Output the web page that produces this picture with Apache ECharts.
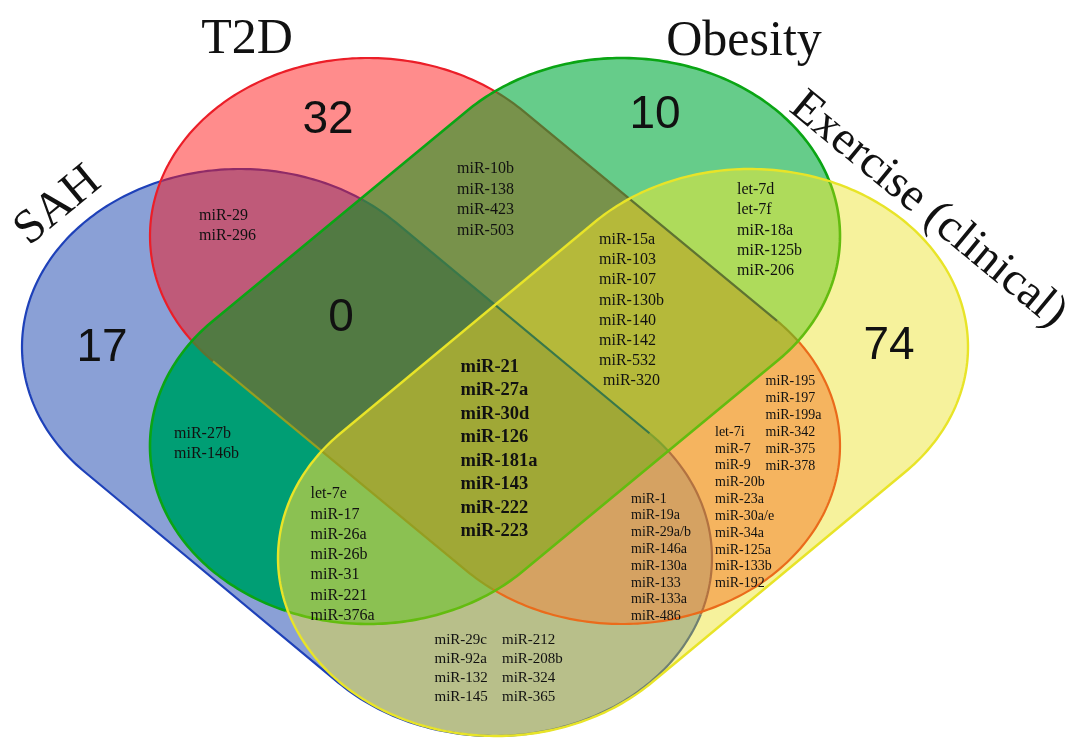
<!DOCTYPE html>
<html>
<head>
<meta charset="utf-8">
<script src="https://cdn.jsdelivr.net/npm/echarts@6/dist/echarts.min.js"></script>
<style>
html,body{margin:0;padding:0;background:#ffffff;}
#chart{width:1070px;height:738px;}
</style>
</head>
<body>
<div id="chart"></div>
<script>
// ---------------- DATA ----------------
const setNames = ['SAH', 'T2D', 'Obesity', 'Exercise (clinical)'];
const uniqueCounts = [17, 32, 10, 74];          // SAH only, T2D only, Obesity only, Exercise only
const sahT2dObCount = 0;                        // SAH ∩ T2D ∩ Obesity
const sahT2d   = ['miR-29', 'miR-296'];
const t2dOb    = ['miR-10b', 'miR-138', 'miR-423', 'miR-503'];
const obEx     = ['let-7d', 'let-7f', 'miR-18a', 'miR-125b', 'miR-206'];
const sahOb    = ['miR-27b', 'miR-146b'];
const t2dEx    = ['let-7i', 'miR-7', 'miR-9', 'miR-20b', 'miR-23a', 'miR-30a/e', 'miR-34a', 'miR-125a', 'miR-133b', 'miR-192',
                  'miR-195', 'miR-197', 'miR-199a', 'miR-342', 'miR-375', 'miR-378'];
const sahEx    = ['miR-29c', 'miR-92a', 'miR-132', 'miR-145', 'miR-212', 'miR-208b', 'miR-324', 'miR-365'];
const t2dObEx  = ['miR-15a', 'miR-103', 'miR-107', 'miR-130b', 'miR-140', 'miR-142', 'miR-532', 'miR-320'];
const sahObEx  = ['let-7e', 'miR-17', 'miR-26a', 'miR-26b', 'miR-31', 'miR-221', 'miR-376a'];
const sahT2dEx = ['miR-1', 'miR-19a', 'miR-29a/b', 'miR-146a', 'miR-130a', 'miR-133', 'miR-133a', 'miR-486'];
const allFour  = ['miR-21', 'miR-27a', 'miR-30d', 'miR-126', 'miR-181a', 'miR-143', 'miR-222', 'miR-223'];

// ---------------- LAYOUT (diagram geometry, in chart units) ----------------
const shapeLayout = [
  { c1: [240, 347], c2: [494, 558], rx: 218, ry: 178 },   // SAH
  { c1: [368, 236], c2: [622, 446], rx: 218, ry: 178 },   // T2D
  { c1: [622, 236], c2: [368, 446], rx: 218, ry: 178 },   // Obesity
  { c1: [750, 347], c2: [496, 558], rx: 218, ry: 178 }    // Exercise
];
const regionColors = {
  1: '#8aa0d6', 2: '#ff8c8c', 4: '#66cc8a', 8: '#f6f29c',
  3: '#bf5a79', 5: '#009e74', 9: '#b8bf8a', 6: '#78924b', 10: '#f5b45f', 12: '#aedb5b',
  7: '#527a43', 11: '#d5a262', 13: '#8bc152', 14: '#b5b93a', 15: '#a0a836'
};
const regionOrder = [1, 2, 4, 8, 3, 5, 9, 6, 10, 12, 7, 11, 13, 14, 15];
// outline colours and the translucent tint each set lays over the outlines drawn before it
const lineColors = [[30, 65, 185], [235, 30, 40], [10, 165, 20], [232, 228, 40]];
const lineWidths = [2.2, 2.2, 2.6, 2.4];
const tints = [[15, 65, 175, 0.5], [255, 20, 20, 0.5], [0, 172, 55, 0.6], [232, 222, 8, 0.4]];
const setNameLayout = [
  { x: 58, y: 206, rot: 0.69, size: 48 },
  { x: 247, y: 40, rot: 0, size: 50 },
  { x: 744, y: 42, rot: 0, size: 50 },
  { x: 928, y: 210, rot: -0.69, size: 47 }
];
const countLayout = [[102, 348], [328, 120], [655, 115], [889, 346]];
const zeroLayout = [341, 318];
const listSources = { sahT2d, t2dOb, obEx, sahOb, t2dEx, sahEx, t2dObEx, sahObEx, sahT2dEx, allFour };
const listLayout = [
  { src: 'sahT2d', x: 199, y: 216, dy: 19.8, size: 16 },
  { src: 't2dOb', x: 457, y: 169, dy: 20.5, size: 16 },
  { src: 'obEx', x: 737, y: 190, dy: 20.2, size: 16 },
  { src: 't2dObEx', x: 599, y: 240, dy: 20.1, size: 16, lastIndent: 4 },
  { src: 'allFour', x: 460.5, y: 367, dy: 23.5, size: 18.5, bold: true },
  { src: 'sahOb', x: 174, y: 434, dy: 20, size: 16 },
  { src: 'sahObEx', x: 310.5, y: 494, dy: 20.3, size: 16 },
  { src: 'sahEx', from: 0, to: 4, x: 434.5, y: 640, dy: 18.9, size: 15 },
  { src: 'sahEx', from: 4, to: 8, x: 502, y: 640, dy: 18.9, size: 15 },
  { src: 'sahT2dEx', x: 631, y: 499, dy: 16.8, size: 14 },
  { src: 't2dEx', from: 0, to: 10, x: 715, y: 432, dy: 16.85, size: 14 },
  { src: 't2dEx', from: 10, to: 16, x: 765.5, y: 381, dy: 17, size: 14 }
];

// ---------------- GEOMETRY HELPERS ----------------
function capsule(s, n) {
  const a = [s.c1[0] / s.rx, s.c1[1] / s.ry], b = [s.c2[0] / s.rx, s.c2[1] / s.ry];
  const ang = Math.atan2(b[1] - a[1], b[0] - a[0]);
  const pts = [];
  for (let i = 0; i <= n; i++) {
    const t = ang - Math.PI / 2 + Math.PI * i / n;
    pts.push([(b[0] + Math.cos(t)) * s.rx, (b[1] + Math.sin(t)) * s.ry]);
  }
  for (let i = 0; i <= n; i++) {
    const t = ang + Math.PI / 2 + Math.PI * i / n;
    pts.push([(a[0] + Math.cos(t)) * s.rx, (a[1] + Math.sin(t)) * s.ry]);
  }
  return pts;
}
function area(p) {
  let s = 0;
  for (let i = 0; i < p.length; i++) { const q = p[(i + 1) % p.length]; s += p[i][0] * q[1] - q[0] * p[i][1]; }
  return s / 2;
}
function intersect(P, Q, A, B) {
  const d1x = Q[0] - P[0], d1y = Q[1] - P[1], d2x = B[0] - A[0], d2y = B[1] - A[1];
  const den = d1x * d2y - d1y * d2x;
  if (Math.abs(den) < 1e-12) return P.slice();
  const t = ((A[0] - P[0]) * d2y - (A[1] - P[1]) * d2x) / den;
  return [P[0] + t * d1x, P[1] + t * d1y];
}
function clipPoly(subject, clip) {
  const sg = Math.sign(area(clip));
  let out = subject;
  for (let i = 0; i < clip.length; i++) {
    const A = clip[i], B = clip[(i + 1) % clip.length];
    const input = out; out = [];
    if (!input.length) break;
    const inside = p => sg * ((B[0] - A[0]) * (p[1] - A[1]) - (B[1] - A[1]) * (p[0] - A[0])) >= 0;
    for (let j = 0; j < input.length; j++) {
      const P = input[j], Q = input[(j + 1) % input.length];
      const pin = inside(P), qin = inside(Q);
      if (pin) { out.push(P); if (!qin) out.push(intersect(P, Q, A, B)); }
      else if (qin) out.push(intersect(P, Q, A, B));
    }
  }
  return out;
}
function insideConvex(p, poly) {
  const sg = Math.sign(area(poly));
  for (let i = 0; i < poly.length; i++) {
    const A = poly[i], B = poly[(i + 1) % poly.length];
    if (sg * ((B[0] - A[0]) * (p[1] - A[1]) - (B[1] - A[1]) * (p[0] - A[0])) < 0) return false;
  }
  return true;
}
const shapes = shapeLayout.map(s => capsule(s, 160));
function lineColorFor(i, key) {
  let c = lineColors[i].slice();
  for (let j = i + 1; j < 4; j++) {
    if (key & (1 << j)) {
      const t = tints[j];
      c = [0, 1, 2].map(k => t[3] * t[k] + (1 - t[3]) * c[k]);
    }
  }
  return 'rgb(' + c.map(v => Math.round(v)).join(',') + ')';
}
// split each outline into runs keyed by which later-drawn sets cover it
const outlineRuns = shapes.map((pts, i) => {
  const keys = pts.map(p => {
    let k = 0;
    for (let j = i + 1; j < 4; j++) if (insideConvex(p, shapes[j])) k |= (1 << j);
    return k;
  });
  let start = keys.findIndex((f, k) => f !== keys[(k - 1 + keys.length) % keys.length]);
  if (start < 0) start = 0;
  const runs = [];
  let cur = { key: keys[start], pts: [pts[start]] };
  for (let k = 1; k <= pts.length; k++) {
    const idx = (start + k) % pts.length;
    if (keys[idx] !== cur.key) {
      cur.pts.push(pts[idx]);
      runs.push(cur);
      cur = { key: keys[idx], pts: [pts[idx]] };
    } else cur.pts.push(pts[idx]);
  }
  runs.push(cur);
  return runs;
});

// ---------------- TEXT ITEMS ----------------
const serif = '"Liberation Serif", "Times New Roman", "DejaVu Serif", serif';
const sans = '"Liberation Sans", Arial, "DejaVu Sans", sans-serif';
const textItems = [];
setNames.forEach((name, i) => textItems.push({ text: name, x: setNameLayout[i].x, y: setNameLayout[i].y, rot: setNameLayout[i].rot, size: setNameLayout[i].size, family: serif, align: 'center' }));
uniqueCounts.forEach((c, i) => textItems.push({ text: String(c), x: countLayout[i][0], y: countLayout[i][1], rot: 0, size: 46, family: sans, align: 'center' }));
textItems.push({ text: String(sahT2dObCount), x: zeroLayout[0], y: zeroLayout[1], rot: 0, size: 46, family: sans, align: 'center' });
listLayout.forEach(L => {
  const src = listSources[L.src];
  const items = src.slice(L.from || 0, L.to === undefined ? src.length : L.to);
  items.forEach((t, k) => {
    const indent = (L.lastIndent && k === items.length - 1) ? L.lastIndent : 0;
    textItems.push({ text: t, x: L.x + indent, y: L.y + k * L.dy, rot: 0, size: L.size, family: serif, align: 'left', bold: !!L.bold });
  });
});

// ---------------- CHART ----------------
const chart = echarts.init(document.getElementById('chart'), null, { renderer: 'canvas' });
chart.setOption({
  animation: false,
  backgroundColor: '#ffffff',
  grid: { left: 0, right: 0, top: 0, bottom: 0 },
  xAxis: { type: 'value', min: 0, max: 1070, show: false },
  yAxis: { type: 'value', min: 0, max: 738, inverse: true, show: false },
  series: [
    {
      type: 'custom', coordinateSystem: 'cartesian2d', silent: true, clip: false, z: 1,
      data: regionOrder.map((m, i) => [i, m]),
      renderItem: function (params, api) {
        const mask = regionOrder[params.dataIndex];
        let poly = null;
        for (let i = 0; i < 4; i++) {
          if (mask & (1 << i)) poly = poly ? clipPoly(poly, shapes[i]) : shapes[i].slice();
        }
        if (!poly || poly.length < 3) return null;
        return { type: 'polygon', shape: { points: poly.map(p => api.coord(p)) }, style: { fill: regionColors[mask], stroke: regionColors[mask], lineWidth: 0.6 } };
      }
    },
    {
      type: 'custom', coordinateSystem: 'cartesian2d', silent: true, clip: false, z: 2,
      data: setNames.map((n, i) => [i, i]),
      renderItem: function (params, api) {
        const i = params.dataIndex;
        return {
          type: 'group',
          children: outlineRuns[i].map(r => ({
            type: 'polyline', shape: { points: r.pts.map(p => api.coord(p)) },
            style: { fill: 'none', stroke: lineColorFor(i, r.key), lineWidth: lineWidths[i], lineJoin: 'round', lineCap: 'butt' }
          }))
        };
      }
    },
    {
      type: 'custom', coordinateSystem: 'cartesian2d', silent: true, clip: false, z: 3,
      data: textItems.map((t, i) => [t.x, t.y]),
      renderItem: function (params, api) {
        const t = textItems[params.dataIndex];
        const p = api.coord([api.value(0), api.value(1)]);
        return {
          type: 'text', x: p[0], y: p[1], rotation: t.rot,
          style: {
            text: t.text, fontSize: t.size, fontFamily: t.family, fontWeight: t.bold ? 'bold' : 'normal',
            fill: '#111111', align: t.align, verticalAlign: 'middle'
          }
        };
      }
    }
  ]
});
</script>
</body>
</html>
